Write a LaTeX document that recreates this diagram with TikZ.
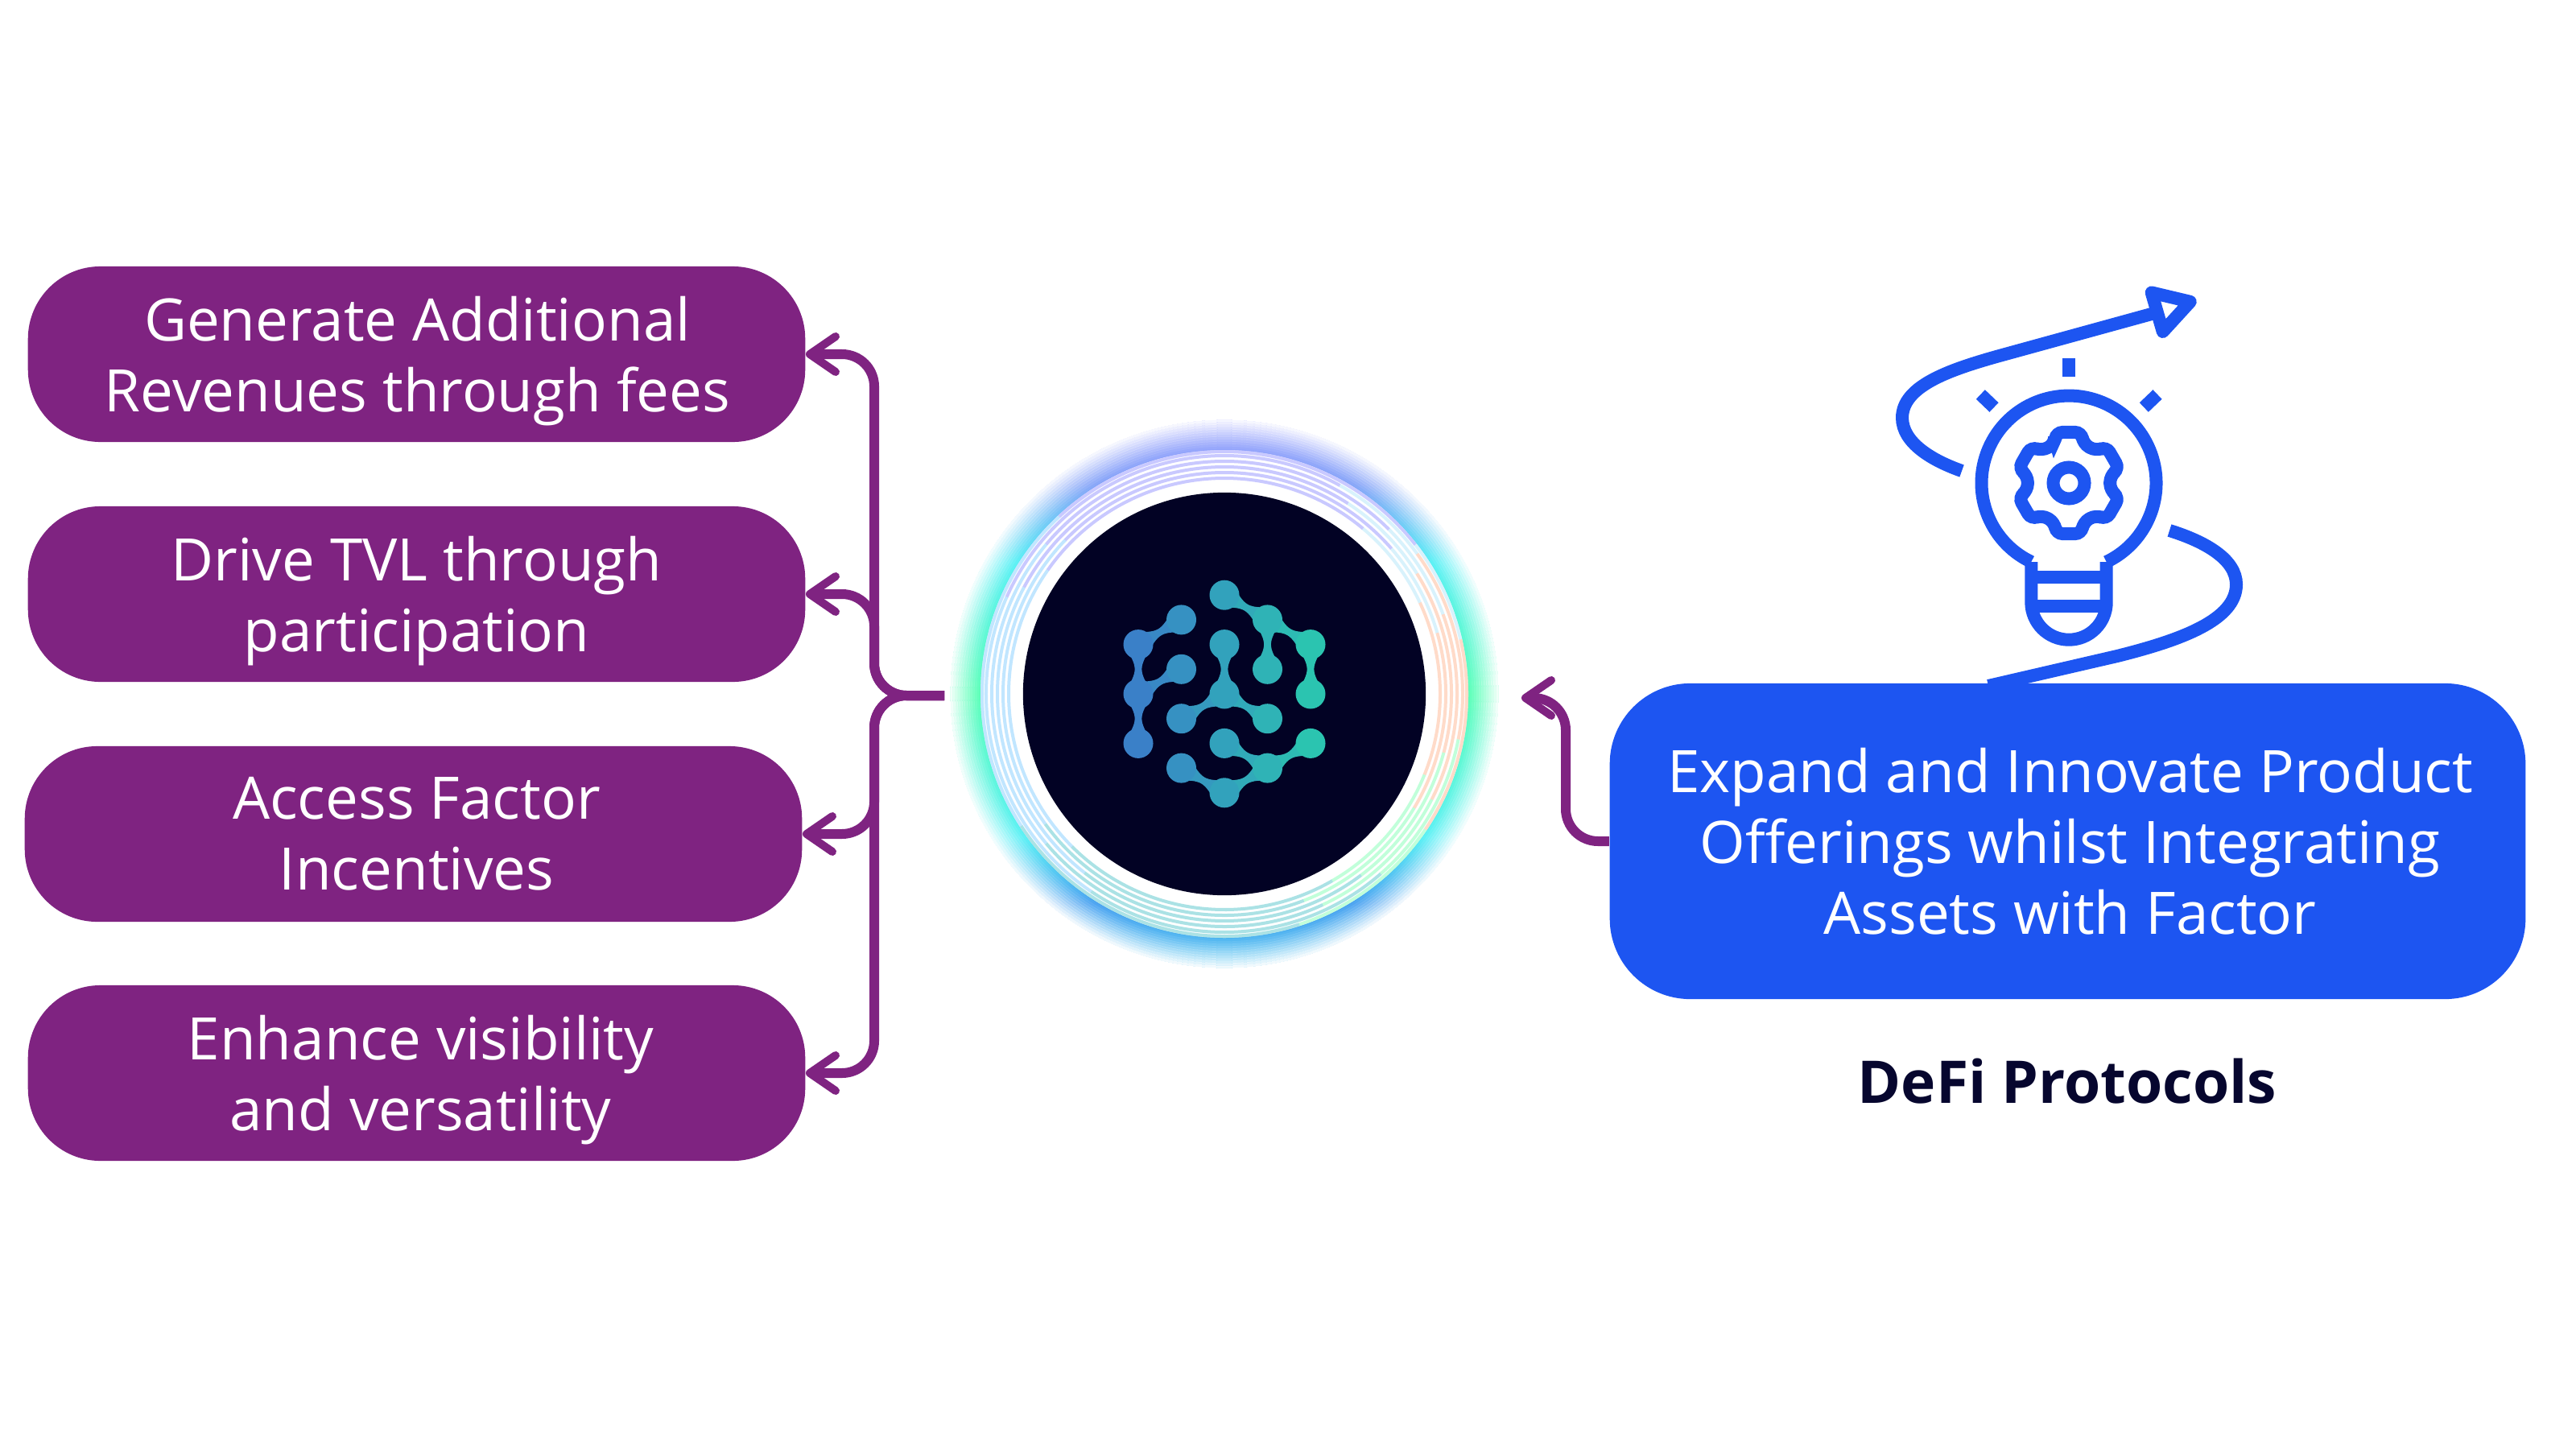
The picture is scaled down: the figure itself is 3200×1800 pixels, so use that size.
\documentclass[tikz,border=0pt]{standalone}
\usepackage{fontspec}
\setmainfont{Open Sans}
\usetikzlibrary{arrows.meta,calc}
\definecolor{factorpurple}{HTML}{7F2381}
\definecolor{protoblue}{HTML}{1D55F1}
\definecolor{coredark}{HTML}{020224}
\definecolor{titledark}{HTML}{06062E}
\definecolor{logoblue}{HTML}{3A80C8}
\definecolor{logoteal}{HTML}{2BC4B0}
\definecolor{glowsky}{HTML}{4CC4F0}
\definecolor{glowblue}{HTML}{3F9DF0}
\definecolor{glowcyan}{HTML}{50F0F5}
\definecolor{glowgreen}{HTML}{55FFB5}
\definecolor{glowperi}{HTML}{7FA0F8}
\definecolor{glowviolet}{HTML}{9AA0FF}
\pgfdeclareverticalshading{glowcolours}{100bp}{
  color(0bp)=(glowsky); color(25bp)=(glowsky); color(31bp)=(glowblue); color(37bp)=(glowcyan); color(50bp)=(glowgreen);
  color(62bp)=(glowcyan); color(69bp)=(glowperi); color(75bp)=(glowviolet); color(100bp)=(glowviolet)}
\tikzset{
  goalbox/.style={fill=factorpurple, rounded corners=9mm, minimum width=9.65cm,
    minimum height=2.18cm, inner sep=0pt},
  boxtext/.style={text=white, inner sep=0pt, align=center, font=\fontsize{20.7}{25}\selectfont},
  protobox/.style={fill=protoblue, rounded corners=10mm, minimum width=11.37cm,
    minimum height=3.92cm, inner sep=0pt},
  linkarrow/.style={draw=factorpurple, line width=1.2mm, rounded corners=4mm,
    -{Straight Barb[length=3.2mm,width=4.4mm,line width=1mm,round]}},
  iconline/.style={draw=protoblue, line width=1.6mm},
  ringline/.style={line width=.4mm, opacity=.6}
}
\begin{document}
\begin{tikzpicture}[x=0.01cm,y=-0.01cm]
  \useasboundingbox (0,0) rectangle (3200,1800);
  % Centre position
  \def\cx{1521} \def\cy{862}
  % Glow
  \shade[shading=glowcolours] (\cx,\cy) circle (342);
  \foreach \rr in {303,306,...,345} {
    \pgfmathsetmacro\op{min(1,pow((\rr-301)/41,1.15))}
    \draw[white, line width=.32mm, opacity=\op] (\cx,\cy) circle (\rr);
  }
  \fill[white] (\cx,\cy) circle (303);
  % Rings
  \foreach \rr/\shift in {268/0,275/9,282/-7,289/5,296/-11,301/12} {
    \draw[ringline, blue!35] (\cx,\cy) ++(215+\shift:\rr) arc [start angle=215+\shift, end angle=310+\shift, radius=\rr];
    \draw[ringline, cyan!25] (\cx,\cy) ++(-50+\shift:\rr) arc [start angle=-50+\shift, end angle=-25+\shift, radius=\rr];
    \draw[ringline, red!35!orange!35] (\cx,\cy) ++(-25+\shift:\rr) arc [start angle=-25+\shift, end angle=22+\shift, radius=\rr];
    \draw[ringline, green!60!cyan!40] (\cx,\cy) ++(22+\shift:\rr) arc [start angle=22+\shift, end angle=60+\shift, radius=\rr];
    \draw[ringline, cyan!70!green!55] (\cx,\cy) ++(60+\shift:\rr) arc [start angle=60+\shift, end angle=135+\shift, radius=\rr];
    \draw[ringline, blue!40!cyan!40] (\cx,\cy) ++(135+\shift:\rr) arc [start angle=135+\shift, end angle=215+\shift, radius=\rr];
  }
  \fill[white] (\cx,\cy) circle (264);
  % Core disc
  \node[circle, fill=coredark, minimum size=5cm, inner sep=0pt] (core) at (\cx,\cy) {};
  % Logo links
  \foreach \ia/\ja/\ib/\jb in {0/-4/1/-3, 1/-3/2/-2, 2/-2/2/0, 1/-3/1/-1, -1/-3/-2/-2, -2/-2/-2/0,
      -2/0/-2/2, -1/-1/-2/0, 0/-2/0/0, 0/0/-1/1, 0/0/1/1, 0/2/1/3, 1/3/2/2, 1/3/0/4, -1/3/0/4} {
    \pgfmathtruncatemacro\mixv{(\ia+\ib+4)*12.5}
    \coordinate (la) at (\cx+53.5*\ia,\cy+30.7*\ja);
    \coordinate (lb) at (\cx+53.5*\ib,\cy+30.7*\jb);
    \fill[logoteal!\mixv!logoblue] ($(la)!1.75mm!90:(lb)$) .. controls ($(la)!.5!(lb)$) .. ($(lb)!1.75mm!-90:(la)$)
      -- ($(lb)!1.75mm!90:(la)$) .. controls ($(la)!.5!(lb)$) .. ($(la)!1.75mm!-90:(lb)$) -- cycle;
  }
  % Logo dots
  \foreach \ia/\ja in {0/-4, 1/-3, 2/-2, 2/0, 1/-1, -1/-3, -2/-2, -2/0, -2/2, -1/-1,
      0/-2, 0/0, -1/1, 1/1, 0/2, 1/3, 2/2, 0/4, -1/3} {
    \pgfmathtruncatemacro\mixv{(\ia+2)*25}
    \fill[logoteal!\mixv!logoblue] (\cx+53.5*\ia,\cy+30.7*\ja) circle (18.5);
  }
  % Left boxes
  \node[goalbox] (boxFees) at (517.5,440) {};
  \node[goalbox] (boxTvl) at (517.5,738) {};
  \node[goalbox] (boxIncentives) at (513.5,1036) {};
  \node[goalbox] (boxVisibility) at (517.5,1333) {};
  % Left box texts
  \node[boxtext] (textFees) at (518.5,449) {Generate Additional\\Revenues through fees};
  \node[boxtext] (textTvl) at (517.5,747) {Drive TVL through\\participation};
  \node[boxtext] (textIncentives) at (517.5,1036) {Access Factor\\Incentives};
  \node[boxtext] (textVisibility) at (522.5,1342) {Enhance visibility\\and versatility};
  % Left connectors
  \coordinate (hub) at (1173,864);
  \coordinate (spine) at (1086,864);
  \foreach \target in {boxFees,boxTvl,boxIncentives,boxVisibility}
    \draw[linkarrow] (hub) -- (spine) |- (\target.east);
  % Bulb icon
  \draw[iconline] (2523.3,698) arc [start angle=115.5, end angle=424.5, radius=108.5];
  \draw[iconline] (2523.3,698) -- (2523.3,748) arc [start angle=180, end angle=0, radius=46.7] -- (2616.7,698);
  \draw[iconline] (2523.3,717) -- (2616.7,717);
  \draw[iconline] (2523.3,753) -- (2616.7,753);
  % Gear
  \draw[iconline, rounded corners=.8mm] (2570,600) ++(-110:52)
    \foreach \aa in {-90,-30,30,90,150,210} {
      -- ($(2570,600)+(\aa-20:52)$) -- ($(2570,600)+(\aa-14:65)$) -- ($(2570,600)+(\aa+14:65)$) -- ($(2570,600)+(\aa+20:52)$)
    } -- cycle;
  \draw[iconline] (2570,600) circle (19.5);
  % Sparks
  \draw[iconline] (2570,445) -- (2570,468);
  \draw[iconline] (2460.3,490) -- (2477,506);
  \draw[iconline] (2680,490) -- (2663.3,506);
  % Swirl
  \draw[iconline] (2437,585) .. controls (2400,572) and (2363,550) .. (2363,519)
    .. controls (2363,480) and (2420,460) .. (2480,443) -- (2680,388);
  \draw[iconline, line join=round] (2672.7,363.4) -- (2720.7,374.8) -- (2686.7,412) -- cycle;
  \draw[iconline] (2695,659) .. controls (2740,673) and (2778,695) .. (2778,726)
    .. controls (2778,770) and (2710,795) .. (2630,815) -- (2470,852);
  % Right box
  \node[protobox] (boxProduct) at (2568.5,1045) {};
  \node[boxtext] (textProduct) at (2571.5,1045) {Expand and Innovate Product\\Offerings whilst Integrating\\Assets with Factor};
  \node[font=\fontsize{20.8}{25}\selectfont\bfseries, text=titledark] (protoTitle) at (2568,1343) {DeFi Protocols};
  % Right connector
  \coordinate (riser) at (1945,867);
  \coordinate (coreIn) at (1890,867);
  \draw[linkarrow] (boxProduct.west) -| (riser) -- (coreIn);
\end{tikzpicture}
\end{document}
